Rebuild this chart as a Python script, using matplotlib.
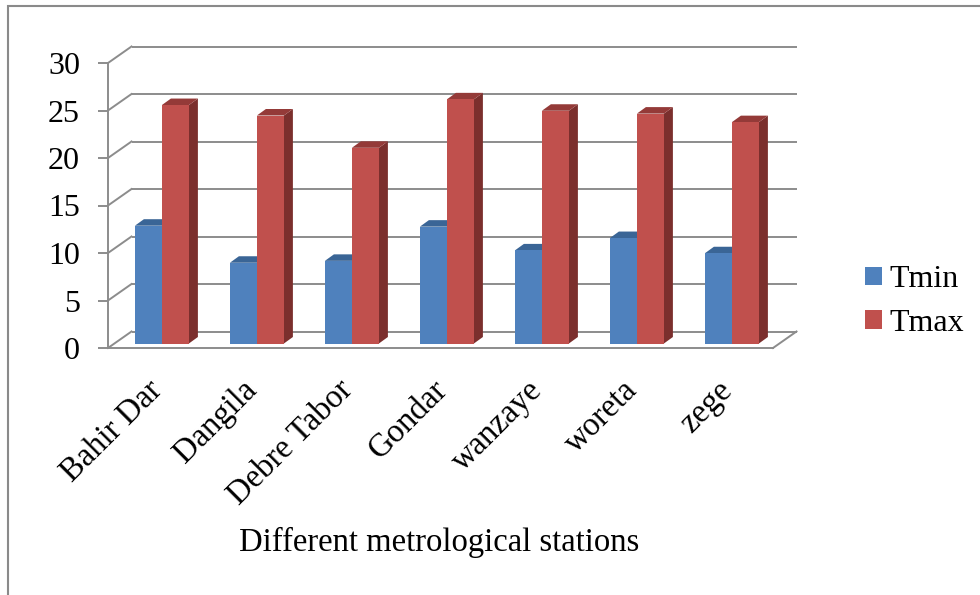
import matplotlib
matplotlib.use("Agg")
import matplotlib.pyplot as plt
from matplotlib.patches import Polygon, Patch, Rectangle
from matplotlib.transforms import ScaledTranslation
import numpy as np

# Mean temperatures per station
stations = ["Bahir Dar", "Dangila", "Debre Tabor", "Gondar", "wanzaye", "woreta", "zege"]
tmin = [12.4, 8.5, 8.7, 12.3, 9.8, 11.1, 9.5]
tmax = [25.1, 24.0, 20.6, 25.7, 24.5, 24.2, 23.3]
series_names = ["Tmin", "Tmax"]
y_ticks = [0, 5, 10, 15, 20, 25, 30]

plt.rcParams["font.family"] = ["Liberation Serif", "DejaVu Serif"]

W, H = 980, 595
fig = plt.figure(figsize=(W / 100, H / 100), dpi=100)
fig.patch.set_facecolor("white")


def fx(px):
    return px / W


def fy(py):
    return 1 - py / H


# chart frame (open to the right and bottom)
fig.patches.append(Rectangle((fx(8), fy(600)), fx(1000) - fx(8), fy(6) - fy(600),
                             transform=fig.transFigure, fill=False,
                             edgecolor="#8a8a8a", lw=1.5, zorder=0))

# front plane of the plot area
left, right, top, bottom = 108, 773, 63, 348
ax = fig.add_axes([fx(left), fy(bottom), fx(right) - fx(left), fy(top) - fy(bottom)])
ncat = len(stations)
ax.set_xlim(0, ncat)
ax.set_ylim(0, 30)
ax.patch.set_visible(False)

px_x = ncat / (right - left)      # category units per pixel
px_y = 30 / (bottom - top)        # value units per pixel

# oblique depth of the wall and of the bars
wall_dx, wall_dy = 23.5 * px_x, 16.5 * px_y
bar_off_x, bar_off_y = 6.4 * px_x, 4.5 * px_y
bar_dx, bar_dy = 9 * px_x, 6.5 * px_y
gap = 20.5 / 95
bar_w = 27 / 95

grid_c = "#8c8c8c"
grid_lw = 1.4

# back wall gridlines and their links to the axis
for v in y_ticks:
    ax.plot([wall_dx, ncat + wall_dx], [v + wall_dy, v + wall_dy], color=grid_c,
            lw=grid_lw, clip_on=False, zorder=1, solid_capstyle="butt")
    ax.plot([0, wall_dx], [v, v + wall_dy], color=grid_c, lw=grid_lw,
            clip_on=False, zorder=1)
# floor right edge
ax.plot([ncat, ncat + wall_dx], [0, wall_dy], color=grid_c, lw=grid_lw,
        clip_on=False, zorder=1)

face_cols = ["#4f81bd", "#c0504d"]
top_cols = ["#3a6596", "#943a38"]
side_cols = ["#36577f", "#7b2f2d"]

for j, vals in enumerate([tmin, tmax]):
    for i, v in enumerate(vals):
        x0 = i + gap + j * bar_w + bar_off_x
        y0 = bar_off_y
        x1 = x0 + bar_w
        y1 = y0 + v
        side = Polygon([(x1, y0), (x1 + bar_dx, y0 + bar_dy), (x1 + bar_dx, y1 + bar_dy), (x1, y1)],
                       closed=True, facecolor=side_cols[j], edgecolor="none",
                       clip_on=False, zorder=3 + j)
        topf = Polygon([(x0, y1), (x1, y1), (x1 + bar_dx, y1 + bar_dy), (x0 + bar_dx, y1 + bar_dy)],
                       closed=True, facecolor=top_cols[j], edgecolor="none",
                       clip_on=False, zorder=3 + j)
        front = Rectangle((x0, y0), bar_w, v, facecolor=face_cols[j], edgecolor="none",
                          clip_on=False, zorder=3 + j)
        for p in (side, topf, front):
            ax.add_patch(p)

# axes lines
for s in ("top", "right"):
    ax.spines[s].set_visible(False)
for s in ("left", "bottom"):
    ax.spines[s].set_color(grid_c)
    ax.spines[s].set_linewidth(grid_lw)
    ax.spines[s].set_zorder(2)

ax.set_yticks(y_ticks)
ax.set_yticklabels([str(t) for t in y_ticks])
ax.tick_params(axis="y", direction="out", length=7.2, width=grid_lw, color=grid_c,
               pad=13, labelsize=23, labelcolor="black")

ax.set_xticks(np.arange(ncat) + 0.5)
ax.set_xticklabels(stations, rotation=45, ha="right", va="center",
                   rotation_mode="anchor")
ax.tick_params(axis="x", length=0, pad=27, labelsize=23.5, labelcolor="black")
shift = ScaledTranslation(1.5 / 72, 0, fig.dpi_scale_trans)
for lab in ax.get_xticklabels():
    lab.set_transform(lab.get_transform() + shift)

fig.text(fx(439), fy(542), "Different metrological stations", ha="center", va="center",
         fontsize=23.5)

handles = [Patch(facecolor=face_cols[k], edgecolor="none", label=series_names[k]) for k in range(2)]
fig.legend(handles=handles, loc="center left", bbox_to_anchor=(fx(865), fy(301.5)),
           frameon=False, fontsize=23, handlelength=0.53, handleheight=0.53,
           handletextpad=0.25, labelspacing=0.45, borderpad=0, borderaxespad=0)

fig.savefig("out.png", dpi=100, facecolor="white")
